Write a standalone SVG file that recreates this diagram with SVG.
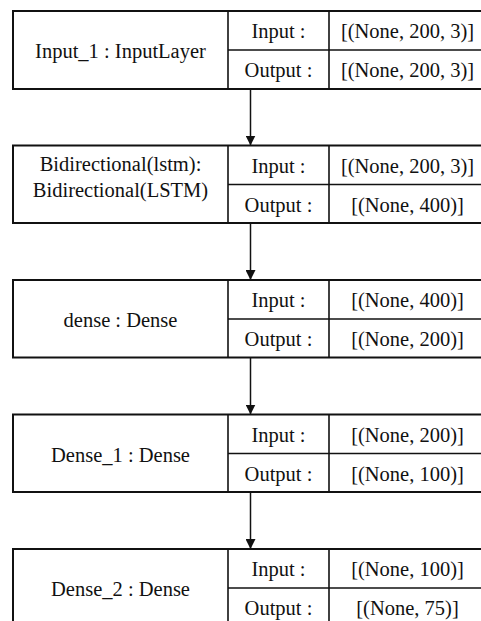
<svg xmlns="http://www.w3.org/2000/svg" width="481" height="621" viewBox="0 0 481 621">
<style>
.box{fill:#fff;stroke:#111;stroke-width:2}
.div{stroke:#111;stroke-width:1.6;fill:none}
.edge{stroke:#111;stroke-width:1.5;fill:none}
text{font-family:"Liberation Serif","Times New Roman",serif;font-size:20.5px;fill:#111;text-anchor:middle}
</style>
<defs>
<marker id="arr" viewBox="0 0 10 10" refX="10" refY="5" markerWidth="10" markerHeight="10" markerUnits="userSpaceOnUse" orient="auto">
<path d="M0,0 L10,5 L0,10 Z" fill="#111"/>
</marker>
</defs>
<rect width="481" height="621" fill="#fff"/>
<g id="connectors">
<line class="edge" x1="250.5" y1="89" x2="250.5" y2="145.5" marker-end="url(#arr)"/>
<line class="edge" x1="250.5" y1="223" x2="250.5" y2="280" marker-end="url(#arr)"/>
<line class="edge" x1="250.5" y1="357.5" x2="250.5" y2="414.5" marker-end="url(#arr)"/>
<line class="edge" x1="250.5" y1="492" x2="250.5" y2="549" marker-end="url(#arr)"/>
</g>
<g id="input_1">
<rect class="box" x="13" y="11" width="475" height="78"/>
<line class="div" x1="228" y1="11" x2="228" y2="89"/>
<line class="div" x1="329" y1="11" x2="329" y2="89"/>
<line class="div" x1="228" y1="50" x2="488" y2="50"/>
<text x="120.5" y="58">Input_1 : InputLayer</text>
<text x="278.5" y="38">Input :</text>
<text x="278.5" y="77">Output :</text>
<text x="407.5" y="38">[(None, 200, 3)]</text>
<text x="407.5" y="77">[(None, 200, 3)]</text>
</g>
<g id="bidirectional">
<rect class="box" x="13" y="145.5" width="475" height="77.5"/>
<line class="div" x1="228" y1="145.5" x2="228" y2="223"/>
<line class="div" x1="329" y1="145.5" x2="329" y2="223"/>
<line class="div" x1="228" y1="184.5" x2="488" y2="184.5"/>
<text x="120.5" y="171">Bidirectional(lstm):</text>
<text x="120.5" y="197">Bidirectional(LSTM)</text>
<text x="278.5" y="172.5">Input :</text>
<text x="278.5" y="211.5">Output :</text>
<text x="407.5" y="172.5">[(None, 200, 3)]</text>
<text x="407.5" y="211.5">[(None, 400)]</text>
</g>
<g id="dense">
<rect class="box" x="13" y="280" width="475" height="77.5"/>
<line class="div" x1="228" y1="280" x2="228" y2="357.5"/>
<line class="div" x1="329" y1="280" x2="329" y2="357.5"/>
<line class="div" x1="228" y1="319" x2="488" y2="319"/>
<text x="120.5" y="327">dense : Dense</text>
<text x="278.5" y="307">Input :</text>
<text x="278.5" y="346">Output :</text>
<text x="407.5" y="307">[(None, 400)]</text>
<text x="407.5" y="346">[(None, 200)]</text>
</g>
<g id="dense_1">
<rect class="box" x="13" y="414.5" width="475" height="77.5"/>
<line class="div" x1="228" y1="414.5" x2="228" y2="492"/>
<line class="div" x1="329" y1="414.5" x2="329" y2="492"/>
<line class="div" x1="228" y1="453.5" x2="488" y2="453.5"/>
<text x="120.5" y="461.5">Dense_1 : Dense</text>
<text x="278.5" y="441.5">Input :</text>
<text x="278.5" y="480.5">Output :</text>
<text x="407.5" y="441.5">[(None, 200)]</text>
<text x="407.5" y="480.5">[(None, 100)]</text>
</g>
<g id="dense_2">
<rect class="box" x="13" y="549" width="475" height="78"/>
<line class="div" x1="228" y1="549" x2="228" y2="627"/>
<line class="div" x1="329" y1="549" x2="329" y2="627"/>
<line class="div" x1="228" y1="588" x2="488" y2="588"/>
<text x="120.5" y="596">Dense_2 : Dense</text>
<text x="278.5" y="576">Input :</text>
<text x="278.5" y="615">Output :</text>
<text x="407.5" y="576">[(None, 100)]</text>
<text x="407.5" y="615">[(None, 75)]</text>
</g>
</svg>
